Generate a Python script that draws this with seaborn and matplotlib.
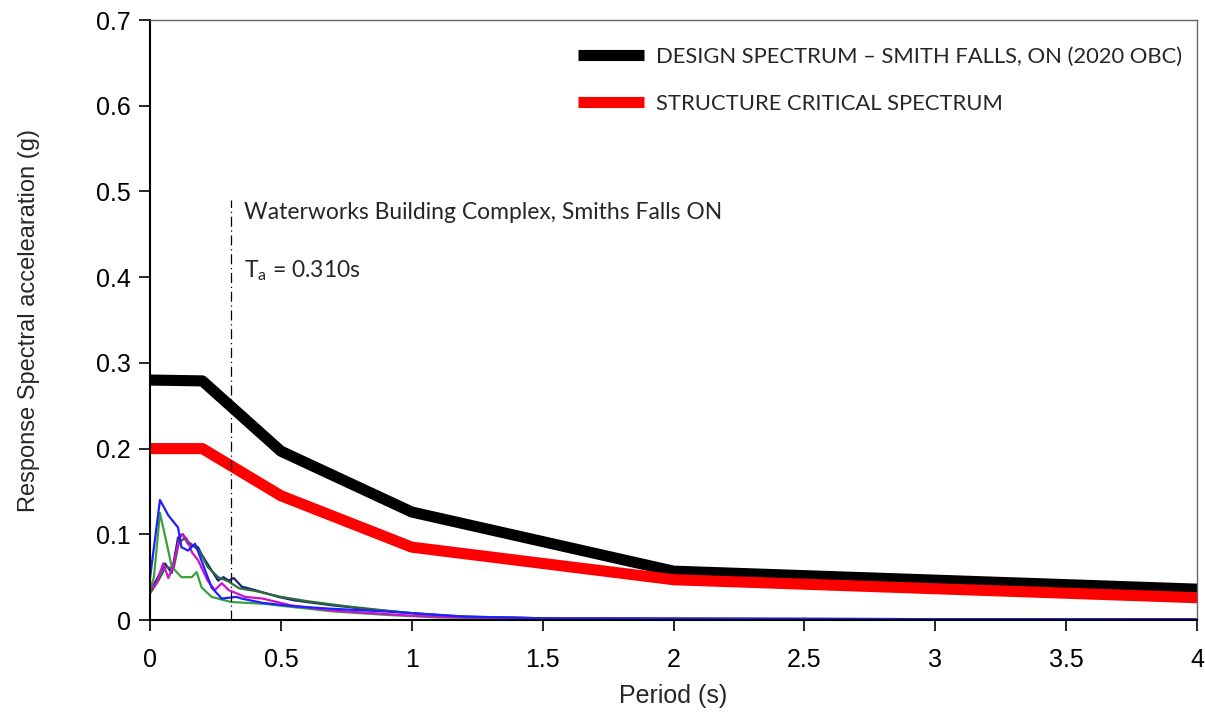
import numpy as np
import pandas as pd
import matplotlib
matplotlib.use("Agg")
import matplotlib.pyplot as plt
import seaborn as sns

# Design / critical spectra
period_spec = [0.0, 0.2, 0.5, 1.0, 2.0, 4.0]
design_sa = [0.280, 0.279, 0.197, 0.126, 0.057, 0.036]
critical_sa = [0.200, 0.200, 0.145, 0.085, 0.047, 0.026]

# Ground motion record spectra
blue_t = [0.0, 0.038, 0.07, 0.107, 0.12, 0.145, 0.172, 0.18, 0.235, 0.274, 0.33, 0.35, 0.43, 0.55, 0.7, 0.9, 1.0, 1.2, 1.5, 2.0, 3.0, 4.0]
blue_sa = [0.049, 0.140, 0.122, 0.108, 0.085, 0.081, 0.089, 0.083, 0.038, 0.025, 0.027, 0.025, 0.020, 0.016, 0.013, 0.010, 0.008, 0.004, 0.002, 0.0015, 0.001, 0.0008]

green_t = [0.0, 0.015, 0.038, 0.064, 0.083, 0.12, 0.16, 0.178, 0.197, 0.235, 0.31, 0.43, 0.55, 0.7, 0.9, 1.1, 1.5, 2.0, 3.0, 4.0]
green_sa = [0.035, 0.050, 0.125, 0.089, 0.062, 0.050, 0.050, 0.056, 0.038, 0.027, 0.021, 0.019, 0.015, 0.010, 0.006, 0.003, 0.0015, 0.001, 0.001, 0.0008]

magenta_t = [0.0, 0.025, 0.05, 0.07, 0.088, 0.107, 0.12, 0.14, 0.16, 0.183, 0.22, 0.248, 0.274, 0.3, 0.363, 0.43, 0.54, 0.7, 1.0, 1.2, 1.5, 2.0, 3.0, 4.0]
magenta_sa = [0.035, 0.043, 0.066, 0.049, 0.062, 0.089, 0.100, 0.095, 0.079, 0.070, 0.046, 0.035, 0.043, 0.035, 0.027, 0.025, 0.017, 0.011, 0.005, 0.003, 0.002, 0.0015, 0.001, 0.0008]

navy_t = [0.0, 0.03, 0.057, 0.083, 0.107, 0.126, 0.145, 0.183, 0.2, 0.235, 0.26, 0.28, 0.3, 0.32, 0.35, 0.4, 0.49, 0.55, 0.7, 0.85, 1.0, 1.15, 1.5, 2.0, 3.0, 4.0]
navy_sa = [0.033, 0.050, 0.066, 0.055, 0.096, 0.100, 0.089, 0.085, 0.075, 0.058, 0.046, 0.050, 0.046, 0.049, 0.039, 0.035, 0.027, 0.023, 0.017, 0.012, 0.008, 0.004, 0.002, 0.0015, 0.001, 0.0008]

dkgreen_t = [0.0, 0.03, 0.06, 0.09, 0.11, 0.13, 0.16, 0.19, 0.22, 0.26, 0.3, 0.34, 0.4, 0.5, 0.6, 0.75, 0.9, 1.0, 1.2, 1.5, 2.0, 3.0, 4.0]
dkgreen_sa = [0.031, 0.045, 0.062, 0.060, 0.090, 0.095, 0.088, 0.080, 0.062, 0.050, 0.045, 0.037, 0.034, 0.027, 0.022, 0.016, 0.011, 0.008, 0.004, 0.002, 0.0015, 0.001, 0.0008]

records = {
    "navy": (navy_t, navy_sa, "#1a237e"),
    "dkgreen": (dkgreen_t, dkgreen_sa, "#2e6b3a"),
    "green": (green_t, green_sa, "#3aa03a"),
    "magenta": (magenta_t, magenta_sa, "#d010d0"),
    "blue": (blue_t, blue_sa, "#2020ff"),
}

ta = 0.310

sns.set_style("ticks")
plt.rcParams["font.family"] = ["Liberation Sans", "DejaVu Sans"]
note_font = ["Lato", "DejaVu Sans"]

fig = plt.figure(figsize=(12.05, 7.12), dpi=100)
ax = fig.add_axes([0.1245, 0.1292, 0.869, 0.8426])

for name, (t, sa, col) in records.items():
    df = pd.DataFrame({"T": t, "Sa": sa})
    sns.lineplot(data=df, x="T", y="Sa", color=col, lw=1.6, ax=ax, sort=False)

spec = pd.DataFrame({"T": period_spec, "design": design_sa, "critical": critical_sa})
sns.lineplot(data=spec, x="T", y="design", color="black", lw=8, ax=ax,
             label="DESIGN SPECTRUM \u2013 SMITH FALLS, ON (2020 OBC)", solid_capstyle="butt")
sns.lineplot(data=spec, x="T", y="critical", color="#ff0000", lw=8, ax=ax,
             label="STRUCTURE CRITICAL SPECTRUM", solid_capstyle="butt")

# fundamental period marker
ax.plot([ta, ta], [0, 0.49], color="black", lw=0.9, ls=(0, (8, 3, 1, 3)))
ax.text(0.36, 0.476, "Waterworks Building Complex, Smiths Falls ON", fontsize=16.5,
        family=note_font, va="center", ha="left")
ax.text(0.36, 0.408, r"T$_\mathregular{a}$ = 0.310s", fontsize=16.5,
        family=note_font, va="center", ha="left")

ax.set_xlim(0, 4)
ax.set_ylim(0, 0.7)
ax.set_xticks(np.arange(0, 4.01, 0.5))
ax.set_xticklabels(["0", "0.5", "1", "1.5", "2", "2.5", "3", "3.5", "4"])
ax.set_yticks(np.arange(0, 0.71, 0.1))
ax.set_yticklabels(["0", "0.1", "0.2", "0.3", "0.4", "0.5", "0.6", "0.7"])
ax.tick_params(axis="both", direction="out", length=8, width=1.2, labelsize=18, colors="black")
ax.tick_params(axis="x", pad=12)
ax.tick_params(axis="y", pad=6)
ax.set_xlabel("Period (s)", fontsize=18, labelpad=9)
ax.set_ylabel("Response Spectral accelearation (g)", fontsize=17, labelpad=40)

for s in ["left", "bottom"]:
    ax.spines[s].set_color("black")
    ax.spines[s].set_linewidth(1.5)
for s in ["top", "right"]:
    ax.spines[s].set_visible(True)
    ax.spines[s].set_color("#666666")
    ax.spines[s].set_linewidth(1.0)

ax.legend(loc="upper left", bbox_to_anchor=(0.409, 0.956), frameon=False,
          prop={"family": note_font, "size": 15.8},
          handlelength=3.0, handletextpad=0.55, labelspacing=1.25,
          borderaxespad=0, borderpad=0)

fig.savefig("out.png", dpi=100)
